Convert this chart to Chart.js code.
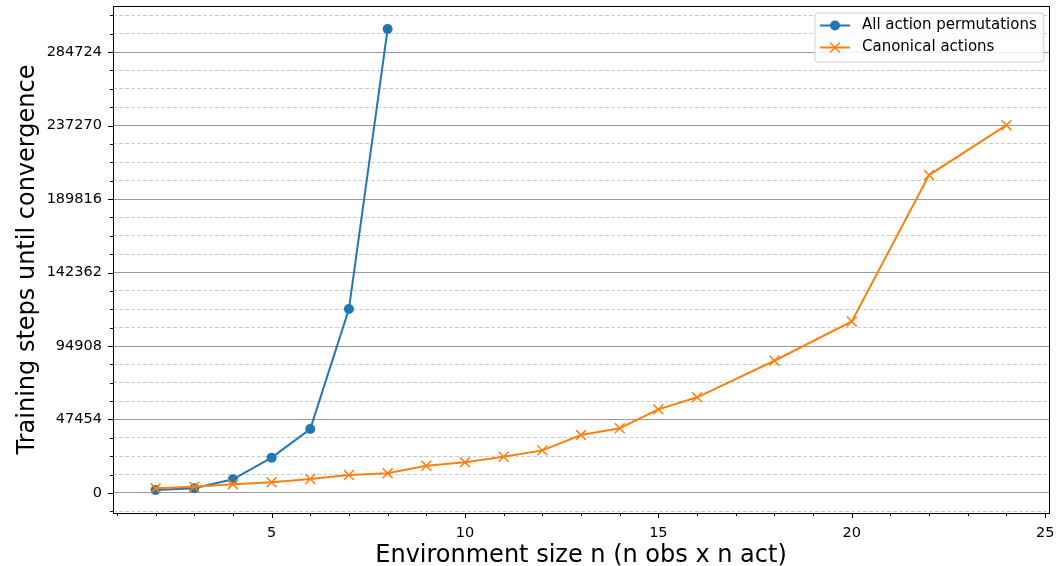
<!DOCTYPE html>
<html><head><meta charset="utf-8">
<script src="https://cdn.jsdelivr.net/npm/chart.js@4.4.1/dist/chart.umd.min.js"></script>
<style>html,body{margin:0;padding:0;background:#fff}</style>
</head><body>
<canvas id="c" width="1060" height="566"></canvas>
<script>
// ---- data ----
const envSizesAll = [2, 3, 4, 5, 6, 7, 8];
const stepsAll = [1950, 3050, 8850, 22800, 41300, 118800, 299600];
const envSizesCanonical = [2, 3, 4, 5, 6, 7, 8, 9, 10, 11, 12, 13, 14, 15, 16, 18, 20, 22, 24];
const stepsCanonical = [3000, 4050, 5700, 6900, 9000, 11600, 12700, 17600, 19800, 23400, 27500, 37400, 41800, 54000, 61800, 85400, 110800, 205300, 237500];
const seriesLabels = ['All action permutations', 'Canonical actions'];
const yMajorTicks = [0, 47454, 94908, 142362, 189816, 237270, 284724];
const xMajorTicks = [5, 10, 15, 20, 25];
const xLabel = 'Environment size n (n obs x n act)';
const yLabel = 'Training steps until convergence';

const FONT = "'DejaVu Sans', 'Liberation Sans', sans-serif";
const yMin = -12930, yMax = 314480;
const xMin = 0.9, xMax = 25.1;

// minor ticks: 4 subdivisions of each major interval
const yQuarter = (yMajorTicks[1] - yMajorTicks[0]) / 4;
const yAllTicks = [];
for (let k = -4; k <= 40; k++) { const v = k * yQuarter; if (v >= yMin && v <= yMax) yAllTicks.push(v); }
const xAllTicks = [];
for (let v = Math.ceil(xMin); v <= xMax; v++) xAllTicks.push(v);

const isMajorY = v => yMajorTicks.some(m => Math.abs(m - v) < 1e-6);
const isMajorX = v => xMajorTicks.includes(v);

const decor = {
  id: 'decor',
  afterDraw(chart) {
    const {ctx, chartArea: {left, top, right, bottom}, scales: {x, y}} = chart;
    ctx.save();
    ctx.strokeStyle = '#000';
    ctx.lineWidth = 1;
    ctx.beginPath();
    yAllTicks.forEach(v => {
      const py = Math.round(y.getPixelForValue(v)) + 0.5;
      const len = isMajorY(v) ? 5 : 3;
      ctx.moveTo(Math.round(left) - len, py); ctx.lineTo(Math.round(left), py);
    });
    xAllTicks.forEach(v => {
      const px = Math.round(x.getPixelForValue(v)) + 0.5;
      const len = isMajorX(v) ? 5 : 3;
      ctx.moveTo(px, Math.round(bottom)); ctx.lineTo(px, Math.round(bottom) + len);
    });
    ctx.stroke();
    ctx.strokeRect(Math.round(left) + 0.5, Math.round(top) + 0.5, Math.round(right - left), Math.round(bottom - top));

    // legend (upper right, inside axes)
    ctx.font = '15px ' + FONT;
    const ds = chart.data.datasets;
    const widths = ds.map(d => ctx.measureText(d.label).width);
    const textW = Math.max(...widths);
    const bx = 815, by = 13, bh = 49;
    const bw = (862 - bx) + textW + 7;
    ctx.beginPath();
    const r = 3;
    ctx.moveTo(bx + r, by);
    ctx.arcTo(bx + bw, by, bx + bw, by + bh, r);
    ctx.arcTo(bx + bw, by + bh, bx, by + bh, r);
    ctx.arcTo(bx, by + bh, bx, by, r);
    ctx.arcTo(bx, by, bx + bw, by, r);
    ctx.closePath();
    ctx.fillStyle = 'rgba(255,255,255,0.85)';
    ctx.fill();
    ctx.lineWidth = 1;
    ctx.strokeStyle = '#d0d0d0';
    ctx.stroke();
    ds.forEach((d, i) => {
      const ly = 25.5 + i * 22;
      ctx.strokeStyle = d.borderColor;
      ctx.lineWidth = 2;
      ctx.beginPath(); ctx.moveTo(820, ly); ctx.lineTo(850, ly); ctx.stroke();
      if (d.pointStyle === 'circle') {
        ctx.fillStyle = d.backgroundColor;
        ctx.beginPath(); ctx.arc(835, ly, d.pointRadius, 0, Math.PI * 2); ctx.fill();
      } else {
        const o = d.pointRadius * Math.SQRT1_2;
        ctx.lineWidth = d.pointBorderWidth;
        ctx.beginPath();
        ctx.moveTo(835 - o, ly - o); ctx.lineTo(835 + o, ly + o);
        ctx.moveTo(835 + o, ly - o); ctx.lineTo(835 - o, ly + o);
        ctx.stroke();
      }
      ctx.fillStyle = '#000';
      ctx.textBaseline = 'middle';
      ctx.textAlign = 'left';
      ctx.fillText(d.label, 862, ly);
    });
    ctx.restore();
  }
};

new Chart(document.getElementById('c'), {
  type: 'line',
  data: {
    datasets: [
      {
        label: seriesLabels[0],
        data: envSizesAll.map((n, i) => ({x: n, y: stepsAll[i]})),
        borderColor: '#1f77b4', backgroundColor: '#1f77b4',
        borderWidth: 2, pointStyle: 'circle', pointRadius: 5, pointBorderWidth: 0,
        pointHoverRadius: 5, tension: 0, order: 1
      },
      {
        label: seriesLabels[1],
        data: envSizesCanonical.map((n, i) => ({x: n, y: stepsCanonical[i]})),
        borderColor: '#ff7f0e', backgroundColor: '#ff7f0e',
        borderWidth: 2, pointStyle: 'crossRot', pointRadius: 7, pointBorderWidth: 1.5,
        pointHoverRadius: 7, tension: 0, order: 0
      }
    ]
  },
  options: {
    responsive: false, animation: false, events: [],
    layout: {autoPadding: false, padding: {top: 6, right: 11, left: 0, bottom: 0}},
    plugins: {legend: {display: false}, tooltip: {enabled: false}},
    scales: {
      x: {
        type: 'linear', min: xMin, max: xMax,
        afterBuildTicks: s => { s.ticks = xAllTicks.map(v => ({value: v})); },
        afterFit: s => { s.height = 53; s.paddingLeft = 0; s.paddingRight = 0; },
        grid: {display: false, drawTicks: false},
        border: {display: false},
        ticks: {autoSkip: false, maxRotation: 0, padding: 12, color: '#000',
          font: {family: FONT, size: 14.5},
          callback: v => isMajorX(v) ? String(v) : ''},
        title: {display: true, text: xLabel, color: '#000',
          font: {family: FONT, size: 24, lineHeight: 0.84}, padding: {top: 0, bottom: 0}}
      },
      y: {
        type: 'linear', min: yMin, max: yMax,
        afterBuildTicks: s => { s.ticks = yAllTicks.map(v => ({value: v})); },
        afterFit: s => { s.width = 113; s.paddingTop = 0; s.paddingBottom = 0; },
        grid: {display: true, drawTicks: false, lineWidth: 1,
          color: c => (c.tick && isMajorY(c.tick.value)) ? '#9a9a9a' : '#cccccc'},
        border: {display: false, dash: c => (c.tick && !isMajorY(c.tick.value)) ? [4, 2] : []},
        ticks: {autoSkip: false, padding: 11, color: '#000',
          font: {family: FONT, size: 14.5},
          callback: v => isMajorY(v) ? String(Math.round(v)) : ''},
        title: {display: true, text: yLabel, color: '#000',
          font: {family: FONT, size: 24, lineHeight: 1.0}, padding: {top: 16, bottom: 0}}
      }
    }
  },
  plugins: [decor]
});
</script>
</body></html>
